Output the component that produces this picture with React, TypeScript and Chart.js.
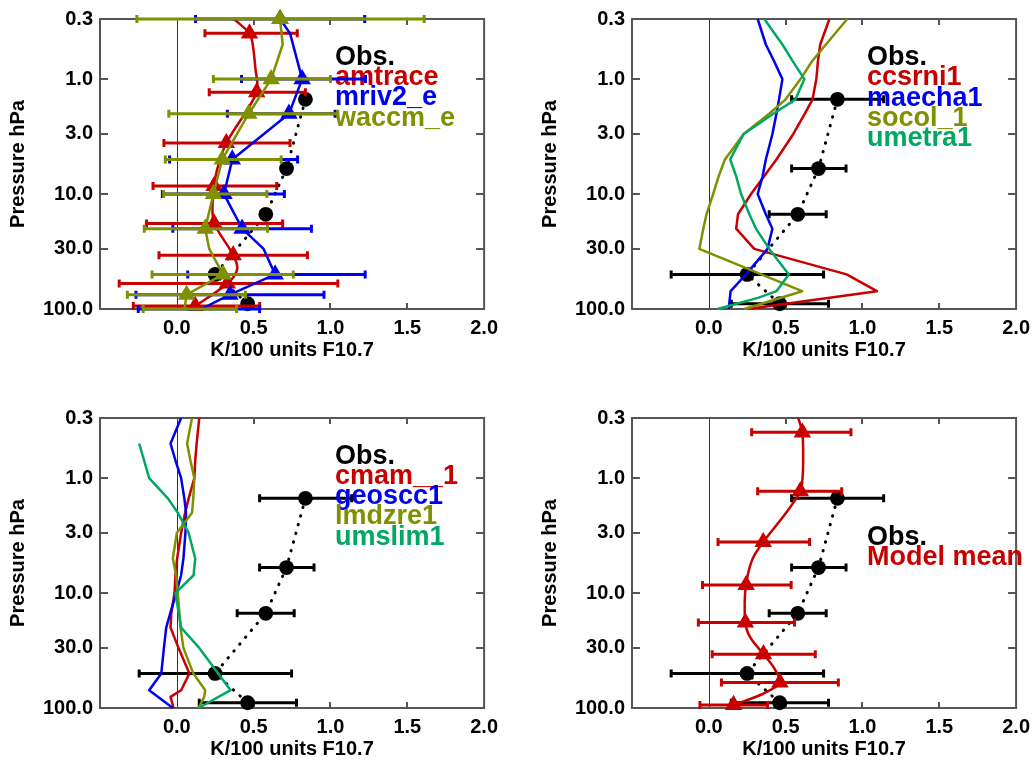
import React, { useEffect, useRef } from "react";
import { Chart, registerables } from "chart.js";

Chart.register(...registerables);

const FONT = "'Liberation Sans', Arial, Helvetica, sans-serif";

// ---------- axes ----------
const Y_TICKS = [0.3, 1, 3, 10, 30, 100];
const X_TICKS = [-0.5, 0, 0.5, 1, 1.5, 2];
const X_LABEL = "K/100 units F10.7";
const Y_LABEL = "Pressure hPa";

// ---------- colours ----------
const BLACK = "#000000";
const RED = "#c80000";
const BLUE = "#0000f0";
const OLIVE = "#7f9000";
const GREEN = "#00a862";

// ---------- observations ----------
const OBS_P = [1.5, 6, 15, 50, 90];
const OBS_V = [0.837, 0.714, 0.579, 0.249, 0.461];
const OBS_LO = [0.539, 0.539, 0.393, -0.245, 0.146];
const OBS_HI = [1.138, 0.893, 0.764, 0.747, 0.779];

// ---------- panel 1 ----------
const TRI_P = [0.4, 1.3, 3.6, 8.5, 18, 34, 60, 94];
const AMTRACE_V = [0.473, 0.52, 0.322, 0.243, 0.243, 0.367, 0.329, 0.12];
const AMTRACE_LO = [0.183, 0.211, -0.084, -0.155, -0.197, -0.116, -0.375, -0.283];
const AMTRACE_HI = [0.784, 0.837, 0.737, 0.65, 0.689, 0.85, 1.048, 0.539];
const AMTRACE_LINE_P = [0.3, 0.4, 0.5, 0.8, 1.3, 3.6, 6, 8.5, 13, 18, 34, 45, 60, 94, 100];
const AMTRACE_LINE_V = [0.372, 0.473, 0.494, 0.511, 0.52, 0.322, 0.264, 0.243, 0.232, 0.243, 0.367, 0.393, 0.329, 0.12, 0.08];

const STD_P = [0.3, 1, 2, 5, 10, 20, 50, 75, 100];
const MRIV_V = [0.672, 0.816, 0.73, 0.361, 0.307, 0.425, 0.64, 0.346, 0.16];
const MRIV_LO = [0.122, 0.421, 0.329, -0.047, -0.094, -0.026, 0.071, -0.266, -0.251];
const MRIV_HI = [1.223, 1.228, 1.03, 0.786, 0.7, 0.876, 1.226, 0.958, 0.539];
const MRIV_LINE_P = [0.3, 0.4, 1, 2, 5, 10, 20, 30, 50, 75, 100];
const MRIV_LINE_V = [0.672, 0.737, 0.816, 0.73, 0.361, 0.307, 0.425, 0.565, 0.64, 0.346, 0.16];

const WACCM_V = [0.672, 0.614, 0.468, 0.296, 0.238, 0.185, 0.301, 0.064, 0.085];
const WACCM_LO = [-0.26, 0.238, -0.052, -0.075, -0.086, -0.212, -0.161, -0.322, -0.219];
const WACCM_HI = [1.61, 1.0, 1.048, 0.679, 0.586, 0.59, 0.758, 0.447, 0.389];
const WACCM_LINE_P = [0.3, 0.5, 1, 2, 5, 10, 20, 30, 50, 75, 100];
const WACCM_LINE_V = [0.672, 0.689, 0.614, 0.468, 0.296, 0.238, 0.185, 0.211, 0.301, 0.064, 0.05];

// ---------- panels 2 & 3 (model levels) ----------
const LEVELS = [0.3, 0.5, 0.7, 1, 1.5, 2, 3, 5, 7, 10, 15, 20, 30, 50, 70, 80, 100];
const CCSRNI1 = [0.785, 0.725, 0.71, 0.7, 0.675, 0.625, 0.55, 0.44, 0.36, 0.275, 0.19, 0.178, 0.296, 0.897, 1.094, null, 0.253];
const MAECHA1 = [0.318, 0.371, 0.425, 0.479, 0.457, 0.44, 0.414, 0.371, 0.35, 0.318, 0.371, 0.414, 0.382, 0.242, 0.142, null, 0.129];
const SOCOL_1 = [0.901, 0.762, 0.672, 0.597, 0.5, 0.393, 0.227, 0.105, 0.064, 0.028, -0.015, -0.036, -0.062, null, 0.607, null, 0.232];
const UMETRA1 = [0.361, 0.479, 0.547, 0.622, 0.564, 0.42, 0.227, 0.139, 0.178, 0.21, 0.264, 0.307, 0.393, 0.521, 0.44, 0.32, 0.056];

const CMAM__1 = [0.146, 0.129, 0.12, 0.114, 0.077, 0.054, 0.028, 0.002, -0.009, -0.015, -0.036, -0.041, 0.011, 0.082, 0.028, -0.041, -0.021];
const GEOSCC1 = [0.028, -0.041, -0.009, 0.028, 0.049, 0.06, 0.056, 0.043, 0.028, -0.004, -0.043, -0.069, -0.084, -0.101, -0.18, null, -0.026];
const LMDZRE1 = [0.099, 0.067, 0.088, 0.114, 0.107, 0.099, 0.0, -0.026, -0.004, 0.006, 0.017, 0.024, 0.043, 0.107, 0.185, 0.178, 0.142];
const UMSLIM1 = [null, -0.245, null, -0.18, -0.058, 0.006, 0.077, 0.12, 0.109, -0.009, 0.013, 0.028, 0.146, null, 0.35, null, 0.142];

// ---------- panel 4 (model mean) ----------
const MEAN_V = [0.609, 0.596, 0.354, 0.243, 0.238, 0.356, 0.463, 0.161];
const MEAN_LO = [0.279, 0.318, 0.06, -0.041, -0.068, 0.022, 0.082, -0.058];
const MEAN_HI = [0.925, 0.865, 0.656, 0.536, 0.558, 0.693, 0.843, 0.382];
const MEAN_LINE_P = [0.3, 0.4, 0.7, 1, 1.3, 2, 3.6, 5, 7, 10, 15, 20, 25, 34, 45, 60, 75, 87, 94, 100];
const MEAN_LINE_V = [0.582, 0.609, 0.614, 0.61, 0.596, 0.503, 0.354, 0.286, 0.253, 0.236, 0.234, 0.243, 0.275, 0.356, 0.425, 0.463, 0.355, 0.232, 0.161, 0.14];

// ---------- geometry ----------
const CW = 505;
const CH = 369;
const AREA_LEFT = 100;
const AREA_W = 388;
const AREA_TOP = 15;
const AREA_H = 294;
const TRI_R = 8.6;
const CIRCLE_R = 7.4;

const pts = (p: number[], v: (number | null)[]) =>
  p.map((y, i) => ({ x: v[i], y })).filter((d) => d.x !== null && d.x !== undefined);

const lineDs = (p: number[], v: (number | null)[], color: string, tension = 0) => ({
  data: pts(p, v),
  showLine: true,
  borderColor: color,
  backgroundColor: color,
  borderWidth: 2.5,
  pointRadius: 0,
  tension,
  borderJoinStyle: "round",
  clip: false,
});

const markerDs = (
  p: number[],
  v: number[],
  color: string,
  style: string,
  radius: number,
  lo?: number[],
  hi?: number[],
  hideBottom = false
) => ({
  data: pts(p, v),
  showLine: false,
  pointStyle: style,
  pointRadius: (ctx: any) => (hideBottom && ctx.raw && ctx.raw.y >= 100 ? 0 : radius),
  backgroundColor: color,
  borderColor: color,
  borderWidth: style === "triangle" ? 1.5 : 0,
  errLo: lo,
  errHi: hi,
  errColor: color,
  clip: false,
});

const obsSets = (withErr: boolean) => [
  {
    data: pts(OBS_P, OBS_V),
    showLine: true,
    borderColor: BLACK,
    borderWidth: 3,
    borderDash: [0.5, 8.5],
    borderCapStyle: "round",
    pointRadius: 0,
    clip: false,
  },
  markerDs(OBS_P, OBS_V, BLACK, "circle", CIRCLE_R, withErr ? OBS_LO : undefined, withErr ? OBS_HI : undefined),
];

type PanelCfg = {
  sets: any[];
  legend: { text: string; color: string }[];
  legendDy: number;
  legendOnTop: boolean;
};

const P1: PanelCfg = {
  sets: [
    ...obsSets(false),
    lineDs(AMTRACE_LINE_P, AMTRACE_LINE_V, RED, 0.3),
    markerDs(TRI_P, AMTRACE_V, RED, "triangle", TRI_R, AMTRACE_LO, AMTRACE_HI),
    lineDs(MRIV_LINE_P, MRIV_LINE_V, BLUE),
    markerDs(STD_P, MRIV_V, BLUE, "triangle", TRI_R, MRIV_LO, MRIV_HI, true),
    lineDs(WACCM_LINE_P, WACCM_LINE_V, OLIVE),
    markerDs(STD_P, WACCM_V, OLIVE, "triangle", TRI_R, WACCM_LO, WACCM_HI, true),
  ],
  legend: [
    { text: "Obs.", color: BLACK },
    { text: "amtrace", color: RED },
    { text: "mriv2_e", color: BLUE },
    { text: "waccm_e", color: OLIVE },
  ],
  legendDy: 45.7,
  legendOnTop: false,
};

const P2: PanelCfg = {
  sets: [
    ...obsSets(true),
    lineDs(LEVELS, CCSRNI1, RED),
    lineDs(LEVELS, MAECHA1, BLUE),
    lineDs(LEVELS, SOCOL_1, OLIVE),
    lineDs(LEVELS, UMETRA1, GREEN),
  ],
  legend: [
    { text: "Obs.", color: BLACK },
    { text: "ccsrni1", color: RED },
    { text: "maecha1", color: BLUE },
    { text: "socol_1", color: OLIVE },
    { text: "umetra1", color: GREEN },
  ],
  legendDy: 46,
  legendOnTop: true,
};

const P3: PanelCfg = {
  sets: [
    ...obsSets(true),
    lineDs(LEVELS, CMAM__1, RED),
    lineDs(LEVELS, GEOSCC1, BLUE),
    lineDs(LEVELS, LMDZRE1, OLIVE),
    lineDs(LEVELS, UMSLIM1, GREEN),
  ],
  legend: [
    { text: "Obs.", color: BLACK },
    { text: "cmam__1", color: RED },
    { text: "geoscc1", color: BLUE },
    { text: "lmdzre1", color: OLIVE },
    { text: "umslim1", color: GREEN },
  ],
  legendDy: 45.5,
  legendOnTop: true,
};

const P4: PanelCfg = {
  sets: [
    ...obsSets(true),
    lineDs(MEAN_LINE_P, MEAN_LINE_V, RED, 0.3),
    markerDs(TRI_P, MEAN_V, RED, "triangle", TRI_R, MEAN_LO, MEAN_HI),
  ],
  legend: [
    { text: "Obs.", color: BLACK },
    { text: "Model mean", color: RED },
  ],
  legendDy: 126.5,
  legendOnTop: true,
};

// ---------- plugins ----------
const framePlugin = {
  id: "frame",
  beforeDatasetsDraw(chart: any) {
    const { ctx, chartArea: a, scales } = chart;
    const xs = scales.x;
    const ys = scales.y;
    ctx.save();
    const x0 = Math.round(xs.getPixelForValue(0)) + 0.5;
    ctx.strokeStyle = "#333333";
    ctx.lineWidth = 1;
    ctx.beginPath();
    ctx.moveTo(x0, a.top);
    ctx.lineTo(x0, a.bottom);
    ctx.stroke();

    ctx.strokeStyle = "#555555";
    ctx.lineWidth = 2;
    ctx.strokeRect(a.left, a.top, a.right - a.left, a.bottom - a.top);
    ctx.beginPath();
    X_TICKS.filter((v) => v > X_TICKS[0] && v < X_TICKS[X_TICKS.length - 1] && v !== 0).forEach((v) => {
      const px = Math.round(xs.getPixelForValue(v));
      ctx.moveTo(px, a.top);
      ctx.lineTo(px, a.top + 6);
      ctx.moveTo(px, a.bottom);
      ctx.lineTo(px, a.bottom - 6);
    });
    Y_TICKS.slice(1, -1).forEach((p) => {
      const py = Math.round(ys.getPixelForValue(p));
      ctx.moveTo(a.left, py);
      ctx.lineTo(a.left + 8, py);
      ctx.moveTo(a.right, py);
      ctx.lineTo(a.right - 8, py);
    });
    ctx.stroke();
    ctx.restore();
  },
};

const errPlugin = {
  id: "errbars",
  beforeDatasetDraw(chart: any, args: any) {
    const ds: any = chart.data.datasets[args.index];
    if (!ds || !ds.errLo) return;
    const { ctx, scales } = chart;
    const xs = scales.x;
    const ys = scales.y;
    ctx.save();
    ctx.strokeStyle = ds.errColor;
    ctx.lineWidth = 3;
    ctx.lineCap = "butt";
    ds.data.forEach((d: any, i: number) => {
      const y = ys.getPixelForValue(d.y);
      const x1 = xs.getPixelForValue(ds.errLo[i]);
      const x2 = xs.getPixelForValue(ds.errHi[i]);
      ctx.beginPath();
      ctx.moveTo(x1, y);
      ctx.lineTo(x2, y);
      ctx.moveTo(x1, y - 4);
      ctx.lineTo(x1, y + 4);
      ctx.moveTo(x2, y - 4);
      ctx.lineTo(x2, y + 4);
      ctx.stroke();
    });
    ctx.restore();
  },
};

const drawLegend = (chart: any, opts: any) => {
  const { ctx, chartArea: a } = chart;
  ctx.save();
  ctx.font = `bold 27px ${FONT}`;
  ctx.textAlign = "left";
  ctx.textBaseline = "alphabetic";
  (opts.items || []).forEach((it: any, i: number) => {
    ctx.fillStyle = it.color;
    ctx.fillText(it.text, a.left + 235, a.top + opts.dy + i * 20.3);
  });
  ctx.restore();
};

const legendPlugin = {
  id: "legendText",
  beforeDatasetsDraw(chart: any, _a: any, opts: any) {
    if (!opts.onTop) drawLegend(chart, opts);
  },
  afterDatasetsDraw(chart: any, _a: any, opts: any) {
    if (opts.onTop) drawLegend(chart, opts);
  },
};

const buildConfig = (cfg: PanelCfg): any => {
  const n = cfg.sets.length;
  const datasets = cfg.sets.map((s, i) => ({ ...s, order: n - i }));
  const tickFont = { family: FONT, size: 20, weight: "bold" as const };
  return {
    type: "scatter",
    data: { datasets },
    plugins: [framePlugin, errPlugin, legendPlugin],
    options: {
      responsive: false,
      animation: false,
      devicePixelRatio: 1,
      events: [],
      layout: { padding: { left: 0, top: AREA_TOP, right: CW - AREA_LEFT - AREA_W, bottom: 0 } },
      plugins: {
        legend: { display: false },
        tooltip: { enabled: false },
        legendText: { items: cfg.legend, dy: cfg.legendDy, onTop: cfg.legendOnTop },
      },
      scales: {
        x: {
          type: "linear",
          position: "bottom",
          min: X_TICKS[0],
          max: X_TICKS[X_TICKS.length - 1],
          afterBuildTicks: (axis: any) => {
            axis.ticks = X_TICKS.map((v) => ({ value: v }));
          },
          afterFit: (axis: any) => {
            axis.height = CH - AREA_TOP - AREA_H;
          },
          grid: { display: false, drawTicks: false },
          border: { display: false },
          ticks: {
            autoSkip: false,
            maxRotation: 0,
            padding: 7,
            color: BLACK,
            font: tickFont,
            callback: (v: any) => (Number(v) < X_TICKS[1] - 0.01 ? "" : Number(v).toFixed(1)),
          },
          title: {
            display: true,
            text: X_LABEL,
            color: BLACK,
            font: tickFont,
            padding: { top: 0, bottom: 7 },
          },
        },
        y: {
          type: "logarithmic",
          position: "left",
          min: Y_TICKS[0],
          max: Y_TICKS[Y_TICKS.length - 1],
          reverse: true,
          afterBuildTicks: (axis: any) => {
            axis.ticks = Y_TICKS.map((v) => ({ value: v, major: true }));
          },
          afterFit: (axis: any) => {
            axis.width = AREA_LEFT;
          },
          grid: { display: false, drawTicks: false },
          border: { display: false },
          ticks: {
            autoSkip: false,
            padding: 7,
            color: BLACK,
            font: tickFont,
            callback: (v: any) => Number(v).toFixed(1),
          },
          title: {
            display: true,
            text: Y_LABEL,
            color: BLACK,
            font: tickFont,
            padding: { top: 6, bottom: 0 },
          },
        },
      },
    },
  };
};

function Panel({ left, top, cfg }: { left: number; top: number; cfg: PanelCfg }) {
  const ref = useRef<HTMLCanvasElement | null>(null);
  useEffect(() => {
    if (!ref.current) return;
    const chart = new Chart(ref.current, buildConfig(cfg));
    return () => chart.destroy();
  }, [cfg]);
  return (
    <canvas
      ref={ref}
      width={CW}
      height={CH}
      style={{ position: "absolute", left, top, width: CW, height: CH }}
    />
  );
}

export default function App() {
  return (
    <div
      style={{
        position: "absolute",
        left: 0,
        top: 0,
        width: 1035,
        height: 764,
        overflow: "hidden",
        background: "#ffffff",
      }}
    >
      <Panel left={0} top={0} cfg={P1} />
      <Panel left={532} top={0} cfg={P2} />
      <Panel left={0} top={399} cfg={P3} />
      <Panel left={532} top={399} cfg={P4} />
    </div>
  );
}
